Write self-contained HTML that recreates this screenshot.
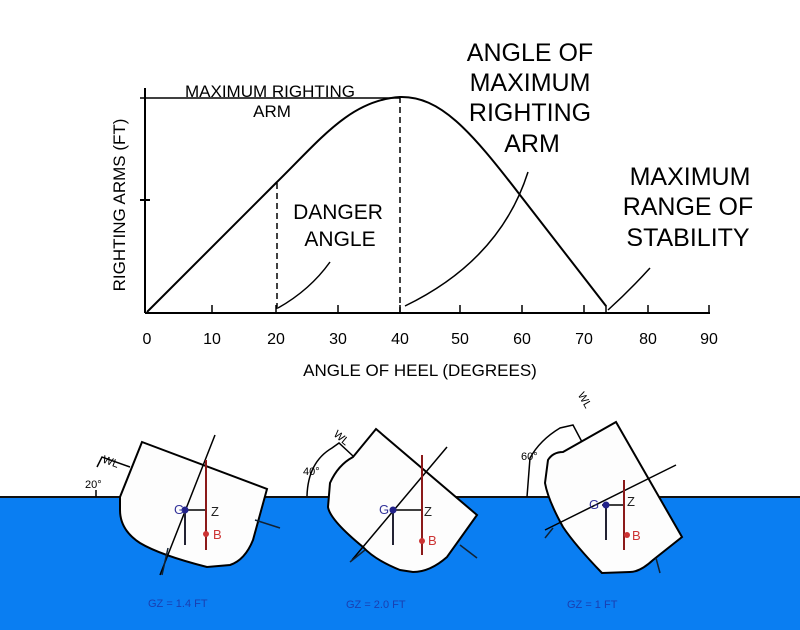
<!DOCTYPE html>
<html><head><style>
html,body{margin:0;padding:0;background:#fff;}
svg{display:block;font-family:"Liberation Sans",sans-serif;}
</style></head><body>
<svg width="800" height="630" viewBox="0 0 800 630" xmlns="http://www.w3.org/2000/svg">
<rect width="800" height="630" fill="#fff"/>
<rect x="0" y="497" width="800" height="133" fill="#0a7ef2"/>
<line x1="0" y1="497" x2="800" y2="497" stroke="#111" stroke-width="2"/>
<!-- axes -->
<g stroke="#000" stroke-width="2" fill="none">
<line x1="145" y1="88" x2="145" y2="313"/>
<line x1="145" y1="313" x2="710" y2="313"/>
<line x1="140" y1="98" x2="400" y2="98" stroke-width="1.5"/>
<line x1="140" y1="200" x2="150" y2="200"/>
<g stroke-width="1.5">
<line x1="212" y1="305" x2="212" y2="313"/><line x1="276" y1="305" x2="276" y2="313"/>
<line x1="338" y1="305" x2="338" y2="313"/><line x1="400" y1="305" x2="400" y2="313"/>
<line x1="460" y1="305" x2="460" y2="313"/><line x1="522" y1="305" x2="522" y2="313"/>
<line x1="584" y1="305" x2="584" y2="313"/><line x1="606" y1="305" x2="606" y2="313"/>
<line x1="648" y1="305" x2="648" y2="313"/><line x1="709" y1="305" x2="709" y2="313"/>
</g>
<path d="M147 312 L276 183 C320 140 350 100 400 97 C440 96 470 130 520 195 L606 306" stroke-width="2"/>
<line x1="277" y1="183" x2="277" y2="312" stroke-dasharray="6,4" stroke-width="1.5"/>
<line x1="400" y1="97" x2="400" y2="312" stroke-dasharray="6,4" stroke-width="1.5"/>
<path d="M278 308 Q310 290 330 262" stroke-width="1.5"/>
<path d="M405 306 Q500 260 528 172" stroke-width="1.5"/>
<path d="M608 310 Q630 290 650 268" stroke-width="1.5"/>
</g>
<g font-size="16" text-anchor="middle" fill="#000">
<text x="147" y="344">0</text><text x="212" y="344">10</text><text x="276" y="344">20</text>
<text x="338" y="344">30</text><text x="400" y="344">40</text><text x="460" y="344">50</text>
<text x="522" y="344">60</text><text x="584" y="344">70</text><text x="648" y="344">80</text><text x="709" y="344">90</text>
<text x="420" y="376" font-size="17">ANGLE OF HEEL (DEGREES)</text>
<text x="270" y="97" font-size="17">MAXIMUM RIGHTING</text>
<text x="272" y="117" font-size="17">ARM</text>
<text x="338" y="219" font-size="21">DANGER</text>
<text x="340" y="246" font-size="21">ANGLE</text>
<text x="530" y="61" font-size="25">ANGLE OF</text>
<text x="530" y="91" font-size="25">MAXIMUM</text>
<text x="530" y="121" font-size="25">RIGHTING</text>
<text x="532" y="152" font-size="25">ARM</text>
<text x="690" y="185" font-size="25">MAXIMUM</text>
<text x="688" y="215" font-size="25">RANGE OF</text>
<text x="688" y="246" font-size="25">STABILITY</text>
<text transform="translate(125,205) rotate(-90)" font-size="17">RIGHTING ARMS (FT)</text>
</g>
<!-- ship 1 -->
<g stroke="#000" stroke-width="2" fill="#fdfdfd">
<path d="M142 442 L267 489 L253 540 Q245 560 230 565 L207 567 Q160 555 140 543 Q120 530 120 510 L120 497 Z"/>
</g>
<g stroke="#000" stroke-width="1.5" fill="none">
<path d="M130 467 L102 457 L97 467"/>
<path d="M96 497 L96 490"/>
<line x1="160" y1="575" x2="215" y2="435"/>
<line x1="185" y1="510" x2="206" y2="510"/>
</g>
<line x1="255" y1="520" x2="280" y2="528" stroke="#123" stroke-width="1.5"/>
<line x1="168" y1="548" x2="162" y2="575" stroke="#123" stroke-width="1.5"/>
<line x1="206" y1="460" x2="206" y2="550" stroke="#8b1a1a" stroke-width="2"/>
<circle cx="206" cy="534" r="3" fill="#c33"/>
<line x1="185" y1="510" x2="185" y2="545" stroke="#223" stroke-width="2"/>
<circle cx="185" cy="510" r="3.5" fill="#22228a"/>
<g font-size="13">
<text x="174" y="514" fill="#33339a">G</text><text x="211" y="516" fill="#222">Z</text><text x="213" y="539" fill="#c33">B</text>
<text x="85" y="488" fill="#000" font-size="11">20°</text>
<text x="103" y="465" fill="#000" font-size="11" transform="rotate(20 110 460)">WL</text>
<text x="148" y="607" fill="#1a3fb0" font-size="11">GZ = 1.4 FT</text>
</g>
<!-- ship 2 -->
<g stroke="#000" stroke-width="2" fill="#fdfdfd">
<path d="M376 429 L477 515 L447 557 Q430 572 413 572 L400 570 Q375 560 363 547 Q330 520 328 507 L330 483 Q338 465 353 457 Z"/>
</g>
<g stroke="#000" stroke-width="1.5" fill="none">
<line x1="352" y1="560" x2="447" y2="447"/>
<line x1="393" y1="510" x2="422" y2="510"/>
<path d="M353 456 L339 443 L332 448 Q308 462 307 496"/>
</g>
<line x1="460" y1="545" x2="477" y2="558" stroke="#123" stroke-width="1.5"/>
<line x1="365" y1="550" x2="350" y2="562" stroke="#123" stroke-width="1.5"/>
<line x1="422" y1="455" x2="422" y2="555" stroke="#8b1a1a" stroke-width="2"/>
<circle cx="422" cy="541" r="3" fill="#c33"/>
<line x1="393" y1="510" x2="393" y2="545" stroke="#223" stroke-width="2"/>
<circle cx="393" cy="510" r="3.5" fill="#22228a"/>
<g font-size="13">
<text x="379" y="514" fill="#33339a">G</text><text x="424" y="516" fill="#222">Z</text><text x="428" y="545" fill="#c33">B</text>
<text x="303" y="475" fill="#000" font-size="11">40°</text>
<text x="334" y="440" fill="#000" font-size="11" transform="rotate(40 340 436)">WL</text>
<text x="346" y="608" fill="#1a3fb0" font-size="11">GZ = 2.0 FT</text>
</g>
<!-- ship 3 -->
<g stroke="#000" stroke-width="2" fill="#fdfdfd">
<path d="M616 422 L682 537 L653 560 Q640 572 630 572 L602 573 Q575 545 563 527 Q548 500 545 483 L548 460 Q553 452 563 452 Z"/>
</g>
<g stroke="#000" stroke-width="1.5" fill="none">
<line x1="545" y1="530" x2="676" y2="465"/>
<line x1="602" y1="505" x2="625" y2="505"/>
<path d="M582 442 L573 425 L560 428 Q540 440 530 458 L527 497"/>
</g>
<line x1="656" y1="558" x2="660" y2="573" stroke="#123" stroke-width="1.5"/>
<line x1="553" y1="528" x2="545" y2="538" stroke="#123" stroke-width="1.5"/>
<line x1="624" y1="480" x2="624" y2="550" stroke="#8b1a1a" stroke-width="2"/>
<circle cx="627" cy="535" r="3" fill="#c33"/>
<line x1="606" y1="505" x2="606" y2="540" stroke="#223" stroke-width="2"/>
<circle cx="606" cy="505" r="3.5" fill="#22228a"/>
<g font-size="13">
<text x="589" y="509" fill="#33339a">G</text><text x="627" y="506" fill="#222">Z</text><text x="632" y="540" fill="#c33">B</text>
<text x="521" y="460" fill="#000" font-size="11">60°</text>
<text x="578" y="402" fill="#000" font-size="11" transform="rotate(60 584 398)">WL</text>
<text x="567" y="608" fill="#1a3fb0" font-size="11">GZ = 1 FT</text>
</g>
</svg>
</body></html>
